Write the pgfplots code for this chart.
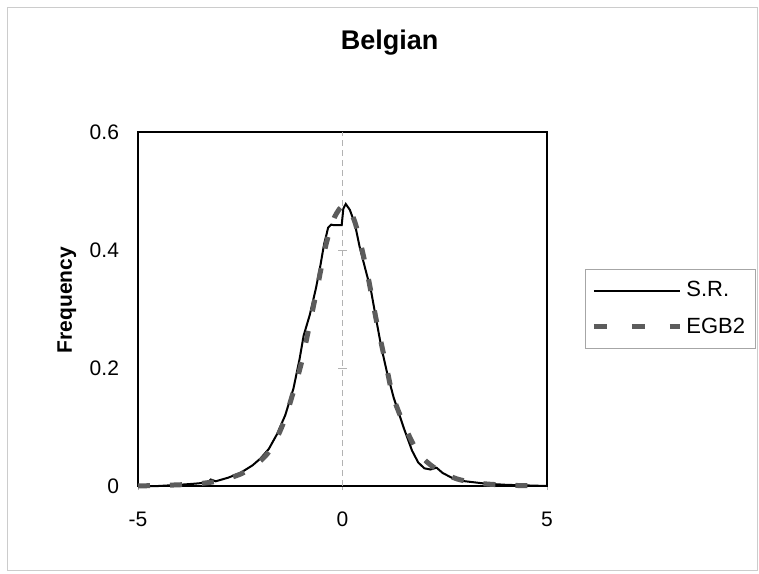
\documentclass[border=0pt]{standalone}
\usepackage{fontspec}
\setmainfont{Liberation Sans}
\usepackage{pgfplots}
\pgfplotsset{compat=1.18}

\definecolor{egbgray}{RGB}{92,92,92}

\begin{document}
\begin{tikzpicture}
% page = 759x573 px at 0.5pt per px
\path[use as bounding box] (0,0) rectangle (379.5pt,286.5pt);
\draw[gray!40, line width=0.5pt] (3.5pt,1.5pt) rectangle (378.5pt,282.5pt);

\begin{axis}[
    at={(69pt,43.5pt)},
    anchor=south west,
    width=204.5pt,
    height=177pt,
    scale only axis,
    xmin=-5, xmax=5,
    ymin=0, ymax=0.6,
    xtick={-5,0,5},
    ytick={0,0.2,0.4,0.6},
    yticklabel style={/pgf/number format/fixed, /pgf/number format/precision=1, xshift=-4pt},
    xticklabel style={yshift=-7.5pt},
    /pgf/number format/assume math mode=true,
    tick label style={font=\fontsize{10.5}{12}\selectfont},
    ytick style={draw=none},
    xtick style={gray!60, thin},
    xtick pos=bottom,
    tick align=outside,
    major tick length=2pt,
    axis line style={black, line width=0.8pt},
    title={Belgian},
    title style={font=\fontsize{13.5}{16}\bfseries, at={(axis description cs:0.615,1.2175)}, anchor=center},
    ylabel={Frequency},
    ylabel style={font=\fontsize{10.5}{12}\bfseries, at={(axis description cs:-0.174,0.525)}, anchor=center},
    legend style={at={(1.093,0.613)}, anchor=north west, draw=gray!70, line width=0.4pt,
        font=\fontsize{11}{12}\selectfont, inner xsep=3pt, inner ysep=4pt,
        row sep=5pt, cells={anchor=west}},
    legend image code/.code={\draw[#1] (0pt,0pt) -- (43pt,0pt);},
    clip=false,
]
\draw[gray!60, densely dashed, line width=0.4pt] (axis cs:0,0) -- (axis cs:0,0.6);
\draw[gray!60, line width=0.4pt] (axis cs:-0.1,0.2) -- (axis cs:0.1,0.2);
\draw[gray!60, line width=0.4pt] (axis cs:-0.1,0.4) -- (axis cs:0.1,0.4);

\addplot[black, line width=1pt] coordinates {
  (-4.9,0.000) (-4.5,0.000) (-4.0,0.002) (-3.6,0.004) (-3.3,0.006)
  (-3.22,0.011) (-3.1,0.008) (-2.8,0.014) (-2.5,0.022) (-2.2,0.035)
  (-2.0,0.047) (-1.8,0.063) (-1.6,0.088) (-1.4,0.120) (-1.2,0.165)
  (-1.05,0.215) (-0.95,0.255) (-0.8,0.290) (-0.65,0.335) (-0.55,0.370)
  (-0.45,0.410) (-0.35,0.438) (-0.28,0.443) (-0.2,0.442) (-0.02,0.442)
  (0.02,0.470) (0.08,0.478) (0.18,0.468) (0.3,0.445) (0.42,0.405)
  (0.55,0.370) (0.7,0.330) (0.83,0.280) (0.95,0.235) (1.08,0.195)
  (1.25,0.150) (1.5,0.098) (1.7,0.060) (1.85,0.040) (2.0,0.030)
  (2.15,0.028) (2.3,0.031) (2.45,0.022) (2.7,0.013) (3.0,0.008)
  (3.5,0.004) (4.0,0.002) (4.5,0.001) (5.0,0.000)
};
\addlegendentry{S.R.}

\addplot[egbgray, line width=2.5pt, dash pattern=on 6pt off 10pt, smooth,
    legend image code/.code={\draw[egbgray, line width=2.5pt, dash pattern=on 6.5pt off 12.5pt] (0pt,0pt) -- (43pt,0pt);}]
  coordinates {
  (-5.0,0.000) (-4.5,0.001) (-4.0,0.002) (-3.5,0.004) (-3.0,0.009)
  (-2.5,0.020) (-2.2,0.032) (-2.0,0.043) (-1.8,0.058) (-1.6,0.082)
  (-1.4,0.115) (-1.2,0.160) (-1.0,0.210) (-0.8,0.275) (-0.6,0.342)
  (-0.4,0.410) (-0.2,0.455) (0.05,0.476) (0.3,0.448) (0.59,0.366)
  (0.83,0.280) (1.08,0.200) (1.24,0.151) (1.53,0.100) (1.81,0.061)
  (2.06,0.041) (2.4,0.024) (2.8,0.012) (3.2,0.006) (3.6,0.003)
  (4.2,0.001) (5.0,0.000)
};
\addlegendentry{EGB2}
\end{axis}
\end{tikzpicture}
\end{document}
